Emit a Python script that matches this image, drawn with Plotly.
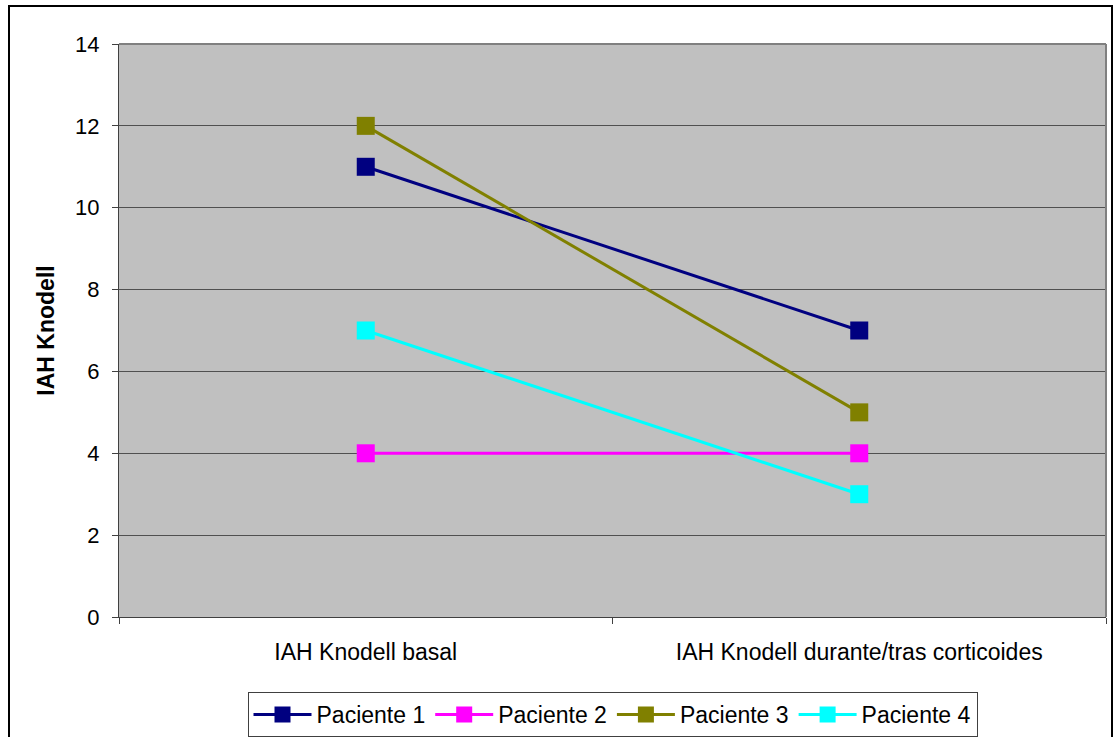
import plotly.graph_objects as go

categories = ["IAH Knodell basal", "IAH Knodell durante/tras corticoides"]
paciente_1 = [11, 7]
paciente_2 = [4, 4]
paciente_3 = [12, 5]
paciente_4 = [7, 3]
series_names = ["Paciente 1", "Paciente 2", "Paciente 3", "Paciente 4"]
series_values = [paciente_1, paciente_2, paciente_3, paciente_4]
colors = ["#000080", "#FF00FF", "#808000", "#00FFFF"]
y_ticks = [0, 2, 4, 6, 8, 10, 12, 14]

W, H = 1114, 737
L, R, T, B = 119, 8, 44, 120
pw, ph = W - L - R, H - T - B

fig = go.Figure()
for name, vals, col in zip(series_names, series_values, colors):
    fig.add_trace(go.Scatter(
        x=categories, y=vals, name=name, mode="lines+markers",
        line=dict(color=col, width=3),
        marker=dict(symbol="square", size=18, color=col, line=dict(width=0)),
    ))

def px_x(x):
    return (x - L) / pw

def px_y(y):
    return (H - B - y) / ph

fig.update_layout(
    width=W, height=H,
    margin=dict(l=L, r=R, t=T, b=B, autoexpand=False),
    paper_bgcolor="white",
    plot_bgcolor="#C0C0C0",
    font=dict(family="Liberation Sans, Arial", size=23, color="black"),
    showlegend=True,
    legend=dict(
        orientation="h", x=0.5, xanchor="center", y=px_y(692), yanchor="top",
        bordercolor="#404040", borderwidth=1, bgcolor="white",
        font=dict(size=23), itemwidth=58, tracegroupgap=0,
    ),
    xaxis=dict(
        type="category", range=[-0.5, 1.5], tickson="boundaries",
        ticks="outside", ticklen=6, tickcolor="#404040",
        showline=True, linecolor="#404040", linewidth=1,
        showgrid=False, zeroline=False, ticklabelstandoff=14,
        tickfont=dict(size=23), automargin=False,
    ),
    yaxis=dict(
        range=[0, 14], tickvals=y_ticks, ticks="outside", ticklen=6,
        tickcolor="#404040", showline=True, linecolor="#404040", linewidth=1,
        showgrid=True, gridcolor="#505050", gridwidth=1, zeroline=False,
        tickfont=dict(size=22), ticklabelstandoff=8, automargin=False,
        title=dict(text="<b>IAH Knodell</b>", font=dict(size=23), standoff=14),
    ),
    shapes=[
        dict(type="line", xref="paper", yref="paper", x0=0, x1=1, y0=1, y1=1,
             line=dict(color="#808080", width=2)),
        dict(type="line", xref="paper", yref="paper", x0=1, x1=1, y0=0, y1=1,
             line=dict(color="#808080", width=2)),
        dict(type="rect", xref="paper", yref="paper",
             x0=px_x(9), x1=px_x(1112), y0=px_y(745), y1=px_y(6),
             line=dict(color="black", width=2), layer="above"),
    ],
)

fig.write_html("out.html", config={"displayModeBar": False},
               post_script="document.body.style.margin='0';")
